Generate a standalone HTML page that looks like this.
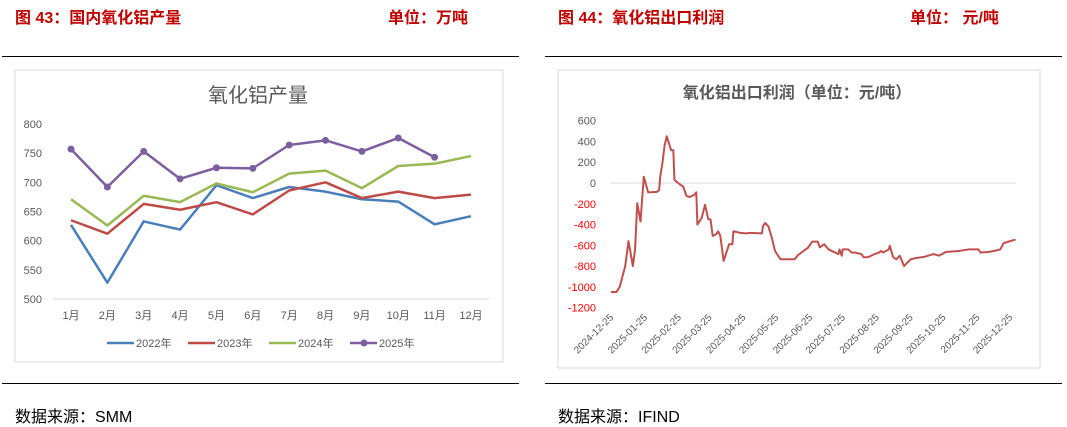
<!DOCTYPE html>
<html><head><meta charset="utf-8"><style>
body{margin:0;width:1067px;height:423px;background:#fff;position:relative;overflow:hidden;font-family:"Liberation Sans","Noto Sans CJK SC",sans-serif}
.h{position:absolute;top:4px;color:#c00000;font-weight:bold;font-size:16px}
.rule{position:absolute;height:1px;background:#000}
.src{position:absolute;top:403px;font-size:16px;color:#000}
</style></head><body>
<div class="h" style="left:15px">图 43：国内氧化铝产量</div>
<div class="h" style="left:388px">单位：万吨</div>
<div class="h" style="left:558px">图 44：氧化铝出口利润</div>
<div class="h" style="left:910px">单位： 元/吨</div>
<div class="rule" style="left:2px;width:517px;top:56px"></div>
<div class="rule" style="left:545px;width:517px;top:56px"></div>
<div class="rule" style="left:2px;width:517px;top:383px"></div>
<div class="rule" style="left:545px;width:517px;top:383px"></div>
<div class="src" style="left:15px">数据来源：SMM</div>
<div class="src" style="left:558px">数据来源：IFIND</div>
<svg id="c1" style="position:absolute;left:0;top:0" width="1067" height="423"></svg>
<script>
const months=["1月","2月","3月","4月","5月","6月","7月","8月","9月","10月","11月","12月"];
const s2022=[627,528,633,619,695,673,692,684,671,667,628,642];
const s2023=[635,612,663,653,666,645,686,700,673,684,673,679];
const s2024=[671,626,677,666,698,683,715,720,690,728,732,745];
const s2025=[757,692,753,706,725,724,764,772,753,776,743];
const yTicks1=[500,550,600,650,700,750,800];
const seriesNames=["2022年","2023年","2024年","2025年"];
const days=[0,5,8,13,16,20,22,24,27,30,34,42,44,45,47,49,51,55,57,58,62,66,69,72,76,78,79,83,86,89,91,93,96,98,100,103,106,108,111,112,118,124,127,138,139,141,144,147,150,155,168,171,176,180,184,189,191,195,199,205,208,209,211,212,217,220,223,229,231,235,241,245,247,249,254,255,258,261,264,268,274,278,287,295,300,306,318,327,336,338,345,350,356,359,365,370];
const profit=[-1050,-1050,-1000,-800,-560,-800,-640,-195,-370,60,-90,-85,-70,60,190,360,450,315,315,30,-5,-35,-125,-135,-115,-90,-400,-335,-210,-350,-350,-510,-495,-465,-510,-750,-655,-590,-590,-465,-480,-485,-480,-485,-415,-385,-420,-525,-655,-735,-735,-695,-655,-625,-565,-565,-620,-590,-640,-670,-685,-640,-700,-640,-640,-670,-670,-685,-715,-715,-685,-670,-655,-670,-640,-605,-715,-735,-700,-800,-735,-725,-710,-685,-700,-665,-655,-640,-640,-670,-665,-655,-640,-580,-560,-545];
const yTicks2=[-1200,-1000,-800,-600,-400,-200,0,200,400,600];
const dateLabels=["2024-12-25","2025-01-25","2025-02-25","2025-03-25","2025-04-25","2025-05-25","2025-06-25","2025-07-25","2025-08-25","2025-09-25","2025-10-25","2025-11-25","2025-12-25"];
const dateDays=[0,31,62,90,121,151,182,212,243,274,304,335,365];

const NS="http://www.w3.org/2000/svg";
const svg=document.getElementById('c1');
function mk(t,a,p){const e=document.createElementNS(NS,t);for(const k in a)e.setAttribute(k,a[k]);(p||svg).appendChild(e);return e;}
// Left panel
let r=mk('rect',{x:15,y:70,width:488,height:292,fill:'#fff',stroke:'#d9d9d9'});

let t=mk('text',{x:258,y:102,'text-anchor':'middle','font-size':20,fill:'#595959'});t.textContent='氧化铝产量';

const y1=v=>299-(v-500)*175/300, x1=i=>71+i*36.36;
yTicks1.forEach(v=>{let e=mk('text',{x:42,y:y1(v)+4,'text-anchor':'end','font-size':11,fill:'#595959'});e.textContent=v;
});
let ax=mk('line',{x1:53,x2:489,y1:y1(500),y2:y1(500),stroke:'#d9d9d9'});
months.forEach((m,i)=>{let e=mk('text',{x:x1(i),y:319,'text-anchor':'middle','font-size':11,fill:'#595959'});e.textContent=m;
});
const cols=['#4a7ebb','#be4b48','#98b954','#7d5fa0'];
[s2022,s2023,s2024,s2025].forEach((s,k)=>{
 let p=mk('polyline',{points:s.map((v,i)=>x1(i)+','+y1(v)).join(' '),fill:'none',stroke:cols[k],'stroke-width':2.5,'stroke-linejoin':'round'});
 
 if(k==3)s.forEach((v,i)=>{let c=mk('circle',{cx:x1(i),cy:y1(v),r:3.5,fill:cols[3]});});
 let lx=107+k*81;
 let l=mk('line',{x1:lx,x2:lx+27,y1:343,y2:343,stroke:cols[k],'stroke-width':2.5});
 if(k==3){let c=mk('circle',{cx:lx+14,cy:343,r:3.5,fill:cols[3]});}
 let lt=mk('text',{x:lx+29,y:347,'font-size':11,fill:'#595959'});lt.textContent=seriesNames[k];
 
});
// Right panel
r=mk('rect',{x:558,y:70,width:482,height:298,fill:'#fff',stroke:'#d9d9d9'});

t=mk('text',{x:797,y:98,'text-anchor':'middle','font-size':16,fill:'#595959','font-weight':'bold'});t.textContent='氧化铝出口利润（单位：元/吨）';

const y2=v=>183-v*0.1038, x2=d=>611+d*1.0935;
yTicks2.forEach(v=>{let e=mk('text',{x:596,y:y2(v)+4,'text-anchor':'end','font-size':11,fill:v<0?'#ff0000':'#595959'});e.textContent=v;
});
ax=mk('line',{x1:611,x2:1016,y1:y2(0),y2:y2(0),stroke:'#d9d9d9'});
dateLabels.forEach((d,i)=>{let x=x2(dateDays[i])+3,y=318;let e=mk('text',{x:x,y:y,'text-anchor':'end','font-size':10,fill:'#595959',transform:`rotate(-45 ${x} ${y})`});e.textContent=d;
});
let pl=mk('polyline',{points:days.map((d,i)=>x2(d)+','+y2(profit[i])).join(' '),fill:'none',stroke:'#c0504d','stroke-width':2,'stroke-linejoin':'round'});

</script>
</body></html>
